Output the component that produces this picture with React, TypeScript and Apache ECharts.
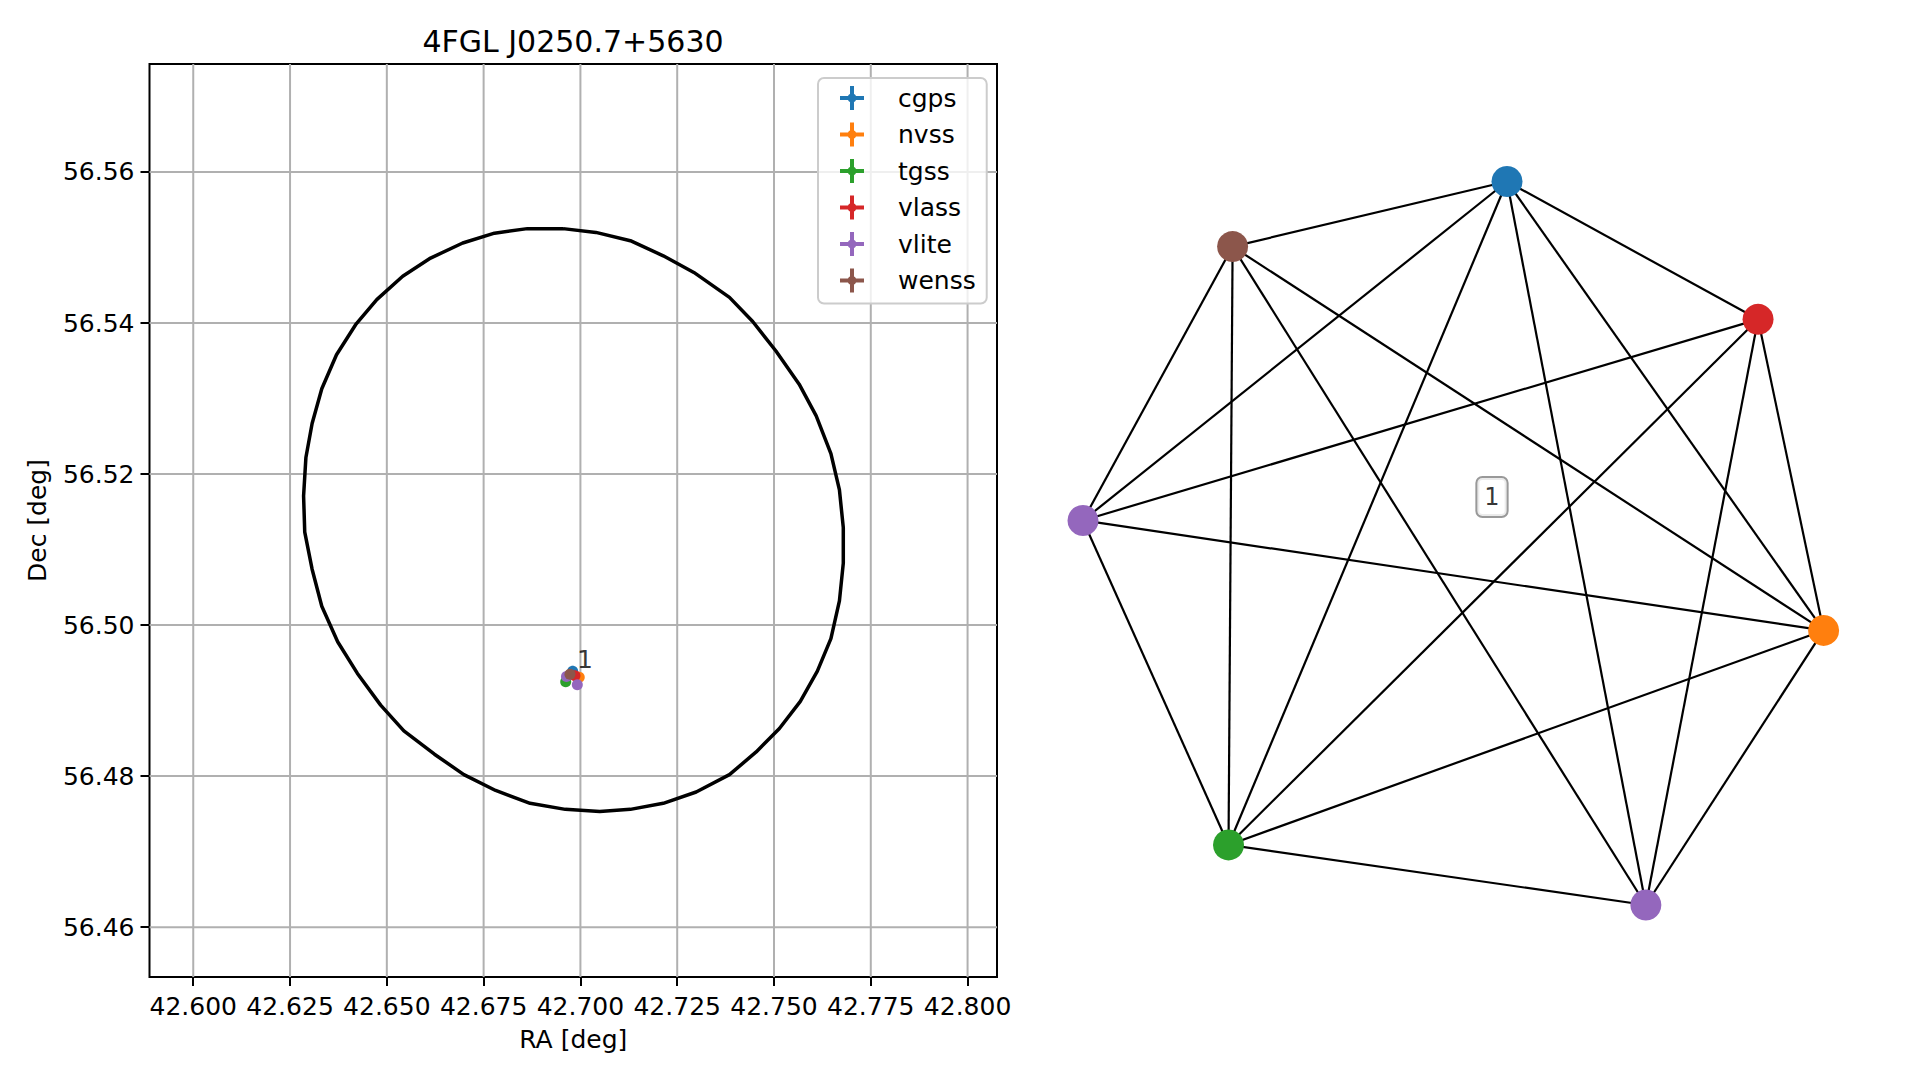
import React, { useEffect, useRef } from 'react';
import * as echarts from 'echarts';

const FONT = 'DejaVu Sans';

const TITLE = '4FGL J0250.7+5630';
const X_NAME = 'RA [deg]';
const Y_NAME = 'Dec [deg]';

const X_MIN = 42.5887;
const X_MAX = 42.8076;
const Y_MIN = 56.4534;
const Y_MAX = 56.5743;

const xTicks = [42.6, 42.625, 42.65, 42.675, 42.7, 42.725, 42.75, 42.775, 42.8];
const yTicks = [56.46, 56.48, 56.5, 56.52, 56.54, 56.56];

const catalogs = ['cgps', 'nvss', 'tgss', 'vlass', 'vlite', 'wenss'];
const catalogColors = ['#1f77b4', '#ff7f0e', '#2ca02c', '#d62728', '#9467bd', '#8c564b'];

// radio sources (left panel)
const srcCatalog = ['cgps', 'nvss', 'tgss', 'vlass', 'vlite', 'vlite', 'wenss'];
const srcRa = [42.698, 42.6997, 42.6962, 42.6986, 42.6964, 42.6992, 42.6973];
const srcDec = [56.4939, 56.4931, 56.4925, 56.4933, 56.4932, 56.4921, 56.4935];
const srcRaErr = [0.0004, 0.0002, 0.0003, 0.0001, 0.0003, 0.0003, 0.0003];
const srcDecErr = [0.0007, 0.0002, 0.0003, 0.0001, 0.0003, 0.0003, 0.0003];

const clusterLabel = '1';
const clusterLabelPos = [42.6991, 56.4955];

// 4FGL error ellipse vertices
const ellipseRa = [
  42.6955, 42.704, 42.7129, 42.7214, 42.7293, 42.7385, 42.7445, 42.7505, 42.7565, 42.7609,
  42.7647, 42.7669, 42.7679, 42.7679, 42.7669, 42.7647, 42.7612, 42.7568, 42.7514, 42.7454,
  42.7385, 42.7299, 42.7214, 42.7129, 42.705, 42.6961, 42.687, 42.6781, 42.6699, 42.6623,
  42.6544, 42.6484, 42.6424, 42.6373, 42.6332, 42.6307, 42.6288, 42.6285, 42.6291, 42.6307,
  42.6332, 42.637, 42.6421, 42.6474, 42.6541, 42.6613, 42.6696, 42.6778, 42.6863, 42.6955,
];
const ellipseDec = [
  56.5525, 56.552, 56.5509, 56.5489, 56.5467, 56.5434, 56.5402, 56.5363, 56.5319, 56.5277,
  56.5227, 56.5179, 56.5129, 56.5082, 56.5032, 56.4982, 56.4939, 56.4899, 56.4863, 56.4832,
  56.4802, 56.4779, 56.4764, 56.4756, 56.4753, 56.4756, 56.4764, 56.4781, 56.4802, 56.4829,
  56.486, 56.4894, 56.4936, 56.4978, 56.5025, 56.5074, 56.5123, 56.5171, 56.5222, 56.5267,
  56.5313, 56.5358, 56.5399, 56.5431, 56.5462, 56.5486, 56.5506, 56.5519, 56.5525, 56.5525,
];

// association graph (right panel), layout coordinates
const nodeNames = ['cgps', 'wenss', 'vlass', 'vlite a', 'nvss', 'tgss', 'vlite b'];
const nodeCatalog = ['cgps', 'wenss', 'vlass', 'vlite', 'nvss', 'tgss', 'vlite'];
const nodeX = [0.145, -0.596, 0.823, -1.0, 1.0, -0.607, 0.52];
const nodeY = [1.0, 0.82, 0.619, 0.063, -0.241, -0.834, -1.0];
const edges: [number, number][] = [
  [0, 1], [0, 2], [0, 3], [0, 4], [0, 5], [0, 6],
  [1, 3], [1, 4], [1, 5], [1, 6],
  [2, 3], [2, 4], [2, 5], [2, 6],
  [3, 4], [3, 5],
  [4, 5], [4, 6],
  [5, 6],
];
const graphLabel = '1';
const graphLabelPos = [0.1045, 0.128];

const colorOf = (c: string) => catalogColors[catalogs.indexOf(c)];

const LEGEND_ICON =
  'path://M0,10H24V14H0Z M10,0H14V24H10Z M7.5,12A4.5,4.5 0 1 1 16.5,12A4.5,4.5 0 1 1 7.5,12Z';

export default function App() {
  const ref = useRef<HTMLDivElement>(null);

  useEffect(() => {
    if (!ref.current) return;
    const chart = echarts.init(ref.current, null, { renderer: 'svg' });

    const textBase = { fontFamily: FONT, color: '#000' };

    const catalogSeries = catalogs.map((cat, ci) => ({
      type: 'scatter',
      name: cat,
      xAxisIndex: 0,
      yAxisIndex: 0,
      z: 4,
      symbol: 'circle',
      symbolSize: 11,
      silent: true,
      itemStyle: { color: catalogColors[ci], opacity: 1 },
      data: srcCatalog
        .map((c, i) => (c === cat ? [srcRa[i], srcDec[i]] : null))
        .filter((d) => d !== null),
    }));

    const option: any = {
      animation: false,
      backgroundColor: '#fff',
      title: {
        text: TITLE,
        left: 573,
        top: 26,
        textAlign: 'center',
        padding: 0,
        textStyle: { ...textBase, fontSize: 30, fontWeight: 'normal' },
      },
      legend: {
        orient: 'vertical',
        left: 818,
        top: 78,
        padding: [7.5, 11, 10.5, 22],
        itemWidth: 24,
        itemHeight: 24,
        itemGap: 11.5,
        icon: LEGEND_ICON,
        backgroundColor: 'rgba(255,255,255,0.8)',
        borderColor: '#cccccc',
        borderWidth: 2,
        borderRadius: 6,
        selectedMode: false,
        textStyle: { ...textBase, fontSize: 25, padding: [0, 0, 0, 29] },
        data: catalogs,
      },
      grid: [
        {
          left: 149.5,
          top: 64,
          width: 847.5,
          height: 913,
          show: true,
          borderColor: '#000',
          borderWidth: 2,
          backgroundColor: 'transparent',
          outerBoundsMode: 'none',
          containLabel: false,
        },
        {
          left: 1083,
          top: 181.5,
          width: 740.6,
          height: 723.5,
          show: false,
          outerBoundsMode: 'none',
          containLabel: false,
        },
      ],
      xAxis: [
        {
          type: 'value',
          gridIndex: 0,
          min: X_MIN,
          max: X_MAX,
          position: 'bottom',
          axisLine: { show: false },
          axisTick: {
            show: true,
            inside: false,
            length: 9,
            lineStyle: { color: '#000', width: 2 },
            customValues: xTicks,
          },
          axisLabel: {
            customValues: xTicks,
            formatter: (v: number) => v.toFixed(3),
            margin: 17,
            fontSize: 25,
            ...textBase,
          },
          splitLine: { show: false },
          name: X_NAME,
          nameLocation: 'middle',
          nameGap: 50,
          nameMoveOverlap: false,
          nameTextStyle: { ...textBase, fontSize: 25 },
        },
        {
          type: 'value',
          gridIndex: 1,
          min: -1,
          max: 1,
          show: false,
        },
      ],
      yAxis: [
        {
          type: 'value',
          gridIndex: 0,
          min: Y_MIN,
          max: Y_MAX,
          position: 'left',
          axisLine: { show: false },
          axisTick: {
            show: true,
            inside: false,
            length: 9,
            lineStyle: { color: '#000', width: 2 },
            customValues: yTicks,
          },
          axisLabel: {
            customValues: yTicks,
            formatter: (v: number) => v.toFixed(2),
            margin: 15,
            fontSize: 25,
            ...textBase,
          },
          splitLine: { show: false },
          name: Y_NAME,
          nameLocation: 'middle',
          nameGap: 100,
          nameRotate: 90,
          nameMoveOverlap: false,
          nameTextStyle: { ...textBase, fontSize: 25 },
        },
        {
          type: 'value',
          gridIndex: 1,
          min: -1,
          max: 1,
          show: false,
        },
      ],
      series: [
        {
          type: 'custom',
          name: 'gridX',
          xAxisIndex: 0,
          yAxisIndex: 0,
          z: 1,
          silent: true,
          encode: { x: 0, y: 1 },
          data: xTicks.map((v) => [v, Y_MIN]),
          renderItem: (params: any, api: any) => {
            const v = api.value(0);
            const p1 = api.coord([v, Y_MIN]);
            const p2 = api.coord([v, Y_MAX]);
            return {
              type: 'line',
              shape: { x1: p1[0], y1: p1[1], x2: p2[0], y2: p2[1] },
              style: { stroke: '#b0b0b0', lineWidth: 2 },
            };
          },
        },
        {
          type: 'custom',
          name: 'gridY',
          xAxisIndex: 0,
          yAxisIndex: 0,
          z: 1,
          silent: true,
          encode: { x: 0, y: 1 },
          data: yTicks.map((v) => [X_MIN, v]),
          renderItem: (params: any, api: any) => {
            const v = api.value(1);
            const p1 = api.coord([X_MIN, v]);
            const p2 = api.coord([X_MAX, v]);
            return {
              type: 'line',
              shape: { x1: p1[0], y1: p1[1], x2: p2[0], y2: p2[1] },
              style: { stroke: '#b0b0b0', lineWidth: 2 },
            };
          },
        },
        {
          type: 'line',
          name: 'ellipse',
          xAxisIndex: 0,
          yAxisIndex: 0,
          z: 3,
          silent: true,
          showSymbol: false,
          symbol: 'none',
          smooth: false,
          lineStyle: { color: '#000', width: 3.5 },
          data: ellipseRa.map((x, i) => [x, ellipseDec[i]]),
        },
        {
          type: 'custom',
          name: 'errorbars',
          xAxisIndex: 0,
          yAxisIndex: 0,
          z: 3,
          silent: true,
          encode: { x: 0, y: 1 },
          data: srcRa.map((x, i) => [x, srcDec[i], srcRaErr[i], srcDecErr[i], catalogs.indexOf(srcCatalog[i])]),
          renderItem: (params: any, api: any) => {
            const x = api.value(0);
            const y = api.value(1);
            const ex = api.value(2);
            const ey = api.value(3);
            const color = catalogColors[api.value(4)];
            const a = api.coord([x - ex, y]);
            const b = api.coord([x + ex, y]);
            const c = api.coord([x, y - ey]);
            const d = api.coord([x, y + ey]);
            return {
              type: 'group',
              children: [
                { type: 'line', shape: { x1: a[0], y1: a[1], x2: b[0], y2: b[1] }, style: { stroke: color, lineWidth: 3 } },
                { type: 'line', shape: { x1: c[0], y1: c[1], x2: d[0], y2: d[1] }, style: { stroke: color, lineWidth: 3 } },
              ],
            };
          },
        },
        ...catalogSeries,
        {
          type: 'scatter',
          name: 'clusterLabel',
          xAxisIndex: 0,
          yAxisIndex: 0,
          z: 5,
          silent: true,
          symbolSize: 0,
          data: [clusterLabelPos],
          label: {
            show: true,
            formatter: clusterLabel,
            position: 'inside',
            align: 'left',
            verticalAlign: 'middle',
            fontSize: 25,
            ...textBase,
          },
        },
        {
          type: 'graph',
          name: 'graph',
          coordinateSystem: 'cartesian2d',
          xAxisIndex: 1,
          yAxisIndex: 1,
          layout: 'none',
          silent: true,
          symbol: 'circle',
          symbolSize: 31,
          z: 2,
          label: { show: false },
          emphasis: { disabled: true },
          lineStyle: { color: '#000', width: 2.2, opacity: 1, curveness: 0 },
          data: nodeNames.map((n, i) => ({
            name: n,
            value: [nodeX[i], nodeY[i]],
            itemStyle: { color: colorOf(nodeCatalog[i]), opacity: 1 },
          })),
          links: edges.map(([s, t]) => ({ source: s, target: t })),
        },
        {
          type: 'scatter',
          name: 'graphLabel',
          xAxisIndex: 1,
          yAxisIndex: 1,
          z: 5,
          silent: true,
          symbolSize: 0,
          data: [graphLabelPos],
          label: {
            show: true,
            formatter: graphLabel,
            position: 'inside',
            align: 'center',
            verticalAlign: 'middle',
            fontSize: 24,
            lineHeight: 26,
            padding: [6, 7],
            backgroundColor: '#fff',
            borderColor: '#808080',
            borderWidth: 2,
            borderRadius: 5,
            ...textBase,
          },
        },
      ],
    };

    chart.setOption(option);
    return () => chart.dispose();
  }, []);

  return (
    <div
      ref={ref}
      style={{ position: 'absolute', left: 0, top: 0, width: '1919px', height: '1080px' }}
    />
  );
}
